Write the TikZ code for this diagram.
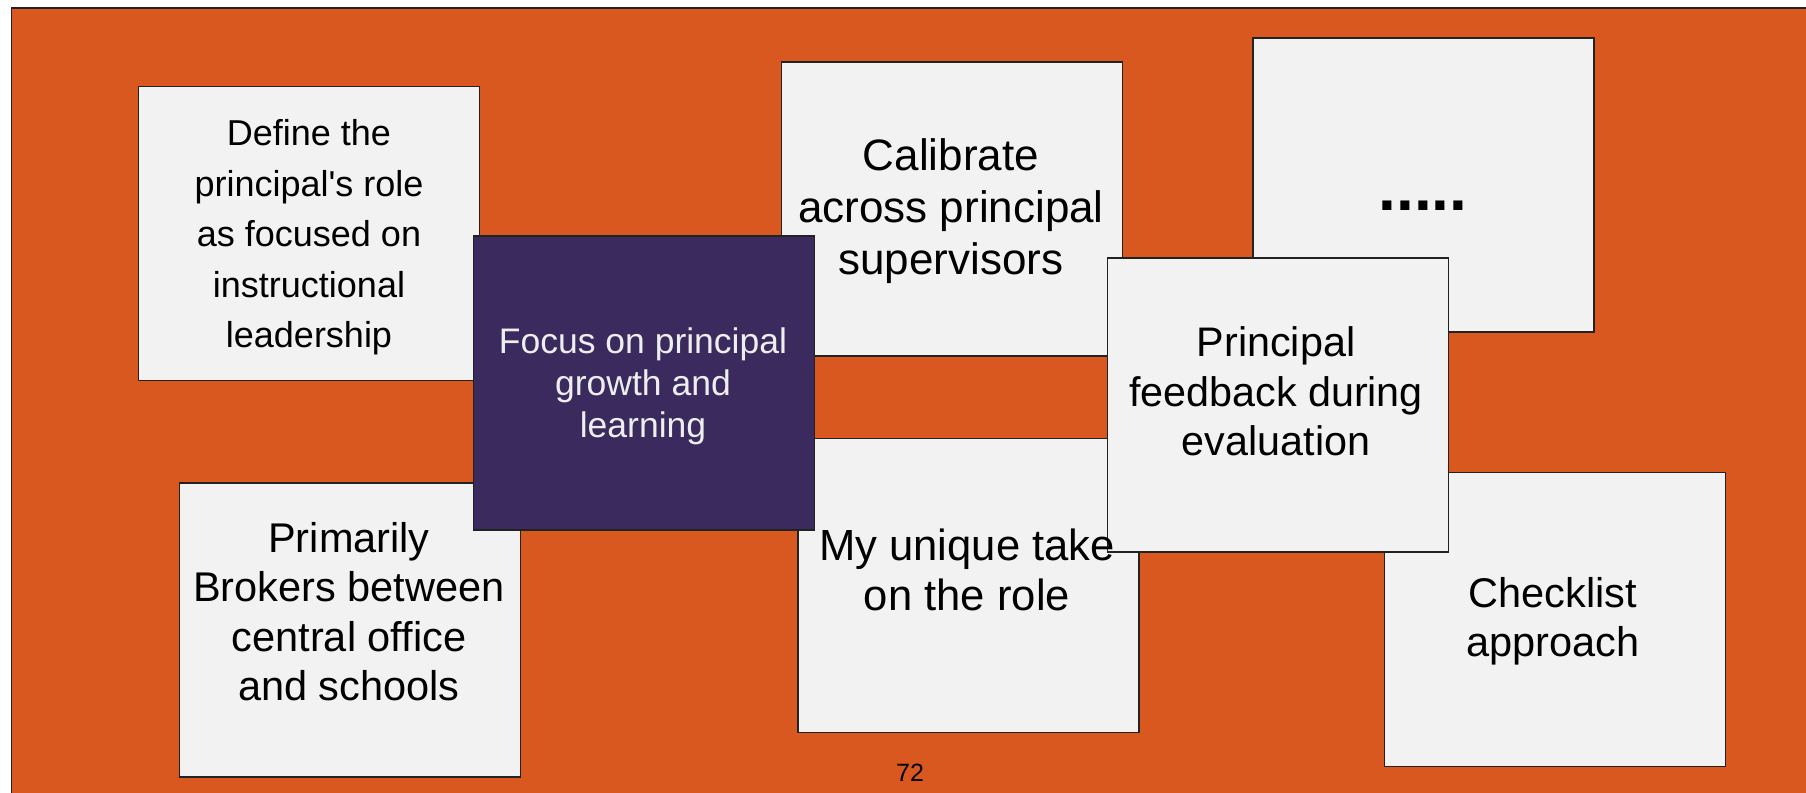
\documentclass[tikz,border=0pt]{standalone}
\usepackage{fontspec}
\setmainfont{Liberation Sans}
\definecolor{bgorange}{RGB}{217,88,31}
\definecolor{deeppurple}{RGB}{58,42,94}
\definecolor{cardgray}{RGB}{242,242,242}
\definecolor{edgegray}{RGB}{34,34,34}
\definecolor{lighttext}{RGB}{238,238,238}
\begin{document}
\begin{tikzpicture}[x=1pt,y=-1pt,
  card/.style={draw=edgegray, line width=1.5pt, fill=cardgray, inner sep=0pt,
    minimum width=341pt, minimum height=294pt},
  purplecard/.style={card, fill=deeppurple},
  cardtext/.style={align=center, inner sep=0pt, text=black},
]
\useasboundingbox (0,0) rectangle (1806,792);
\fill[white] (0,0) rectangle (1806,792);
\draw[fill=bgorange, draw=edgegray, line width=1.2pt] (11.5,8) rectangle (1840,830);

% Define
\node[card] (define) at (309,233.5) {};
\node[cardtext, font=\fontsize{36}{50.5}\selectfont] (definetxt) at (309,237.5)
  {Define the\\principal\textquotesingle s role\\as focused on\\instructional\\leadership};

% Primarily
\node[card] (brokers) at (350,630) {};
\node[cardtext, font=\fontsize{41.5}{49.5}\selectfont] (brokerstxt) at (349,611.5)
  {Primarily\\Brokers between\\central office\\and schools};

% Calibrate
\node[card] (calibrate) at (952,209) {};
\node[cardtext, font=\fontsize{44}{52}\selectfont] (calibratetxt) at (951,211.5)
  {Calibrate\\across principal\\supervisors};

% My unique take (box)
\node[card] (unique) at (968.5,585.5) {};

% Focus
\node[purplecard] (focus) at (644,383) {};
\node[cardtext, text=lighttext, font=\fontsize{35.5}{42}\selectfont] (focustxt) at (643,386.5)
  {Focus on principal\\growth and\\learning};

% ..... box
\node[card] (dots) at (1423.5,185) {};
\node[anchor=base, inner sep=0pt, font=\fontsize{64}{64}\selectfont\bfseries] (dotstxt) at (1423,210) {.....};

% Checklist
\node[card] (checklist) at (1555,619.5) {};
\node[cardtext, font=\fontsize{41.5}{48.5}\selectfont] (checklisttxt) at (1553,621.5)
  {Checklist\\approach};

% Principal feedback
\node[card] (feedback) at (1278,405) {};
\node[cardtext, font=\fontsize{41.3}{49.5}\selectfont] (feedbacktxt) at (1276,391.5)
  {Principal\\feedback during\\evaluation};

% My unique take (text, printed over the feedback card)
\node[cardtext, font=\fontsize{43.6}{50.7}\selectfont] (uniquetxt) at (967,570)
  {My unique take\\on the role};

% page number
\node[inner sep=0pt, font=\fontsize{25}{25}\selectfont] (pagenum) at (910,773) {72};
\end{tikzpicture}
\end{document}
